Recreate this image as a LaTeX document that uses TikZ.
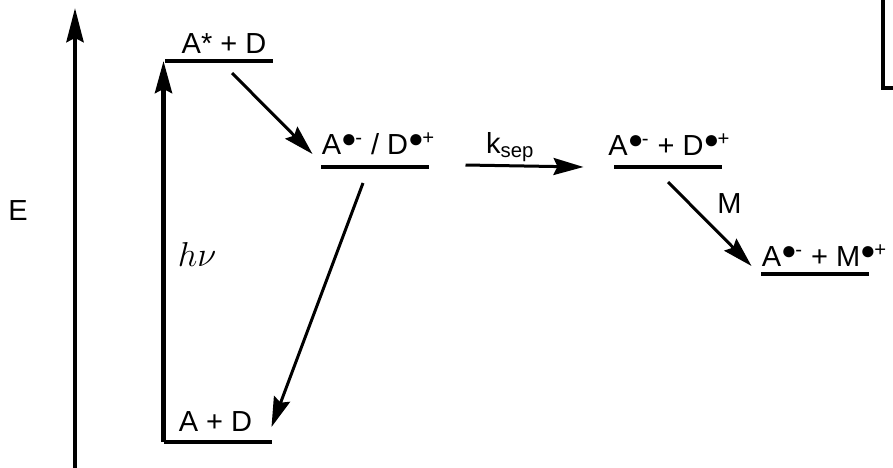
\documentclass[tikz,border=0pt]{standalone}
\usepackage{fontspec}
\setmainfont{Liberation Sans}
\usetikzlibrary{positioning,arrows.meta}
\newcommand{\radsup}[1]{\raisebox{3.6pt}{\fontsize{13}{13}\selectfont ●}\kern-0.8pt\textsuperscript{#1}}

\begin{document}
\begin{tikzpicture}[x=0.5pt, y=-0.5pt, node distance=3pt, font=\fontsize{14.5}{17}\selectfont]
    \tikzstyle{level} = [rectangle, fill=black, inner sep=0pt, outer sep=0pt, minimum width=54pt, minimum height=2pt]
    \tikzstyle{state} = [inner sep=0pt, text depth=0pt]
    \tikzstyle{trans} = [line width=1.5pt, -{Stealth[length=15pt, width=8.5pt, inset=2pt]}]
    \tikzstyle{pump} = [line width=2.2pt, -{Stealth[length=16pt, width=8.5pt, inset=2pt]}]
    \tikzstyle{axis} = [line width=2.2pt, -{Stealth[length=17pt, width=8.5pt, inset=2pt]}]

    \useasboundingbox (0,0) rectangle (893,467);

    % energy axis
    \coordinate (axbot) at (75,470);
    \coordinate (axtop) at (75,8);
    \draw[axis] (axbot) -- (axtop);
    \node (elab) at (18,211) {E};

    % levels
    \node[level] (exc) at (219,61) {};
    \node[level] (ip) at (374.5,167) {};
    \node[level] (fip) at (667.5,167) {};
    \node[level] (sec) at (814.5,274) {};
    \node[level] (gs) at (217.5,442) {};

    % level labels
    \node[state, above=2.5pt of exc, xshift=2.5pt] (excl) {A* + D};
    \node[state, above=5pt of ip, xshift=2pt] (ipl) {A\radsup{-} / D\radsup{+}};
    \node[state, above=4.5pt of fip, xshift=1pt] (fipl) {A\radsup{-} + D\radsup{+}};
    \node[state, above=2.5pt of sec, xshift=5pt] (secl) {A\radsup{-} + M\radsup{+}};
    \node[state, above=4pt of gs, xshift=-1pt] (gsl) {A + D};

    % transitions
    \draw[pump] (gs.west) -- (gs.west |- exc.west);
    \node[font=\fontsize{18}{20}\selectfont] (hnu) at (197,254) {$h\nu$};
    \draw[trans] ([shift={(13,10)}]exc.south) -- ([shift={(-8,-13)}]ip.west);
    \draw[trans] ([shift={(-11.5,14)}]ip.south) -- ([shift={(0,-13)}]gs.north east);
    \draw[trans] ([shift={(37,-2)}]ip.east) -- node[state, pos=0.38, above=5.5pt, name=ksep] {k\textsubscript{sep}} ([shift={(-30,0)}]fip.west);
    \draw[trans] ([shift={(0.5,13)}]fip.south) -- node[state, midway, above right=4.5pt and 3pt, name=mlab] {M} ([shift={(-9,-8)}]sec.west);

    % box corner
    \draw[line width=1.8pt] (883,-10) |- (900,88);
\end{tikzpicture}
\end{document}
